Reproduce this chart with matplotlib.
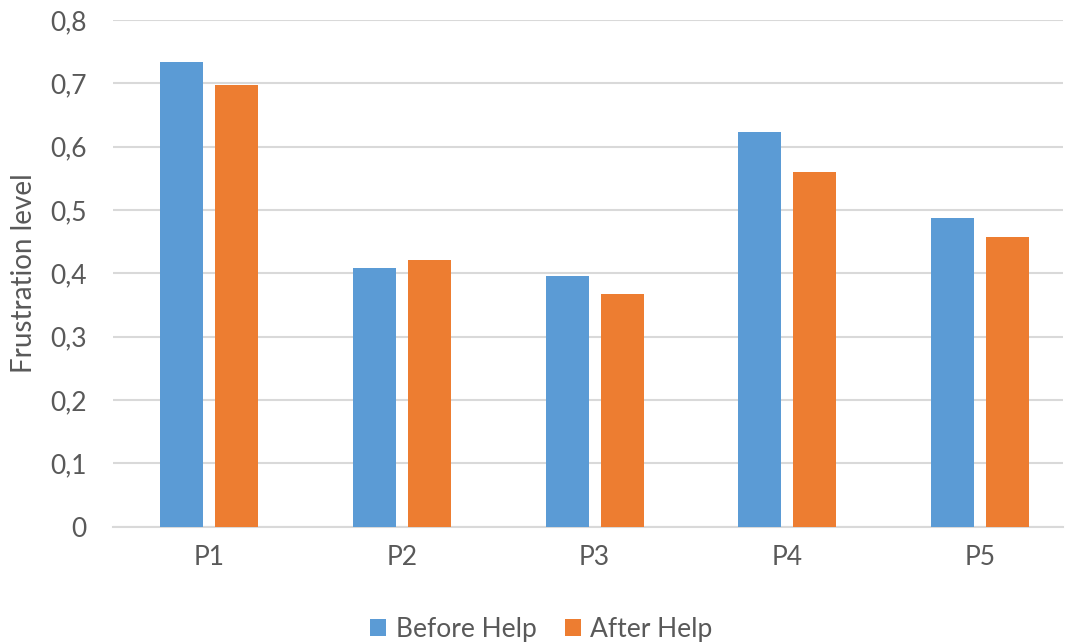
import matplotlib.pyplot as plt
import numpy as np

categories = ["P1", "P2", "P3", "P4", "P5"]
before_help = [0.733, 0.408, 0.395, 0.623, 0.488]
after_help = [0.697, 0.421, 0.368, 0.560, 0.458]
y_ticks = [0, 0.1, 0.2, 0.3, 0.4, 0.5, 0.6, 0.7, 0.8]

plt.rcParams["font.family"] = ["Lato", "DejaVu Sans"]
text_color = "#595959"

fig = plt.figure(figsize=(10.66, 6.43), dpi=100)
ax = fig.add_axes([0.106, 0.181, 0.891, 0.788])

x = np.arange(len(categories))
w = 0.223
off = 0.143
ax.bar(x - off, before_help, w, color="#5B9BD5", label="Before Help", zorder=3)
ax.bar(x + off, after_help, w, color="#ED7D31", label="After Help", zorder=3)

ax.set_xlim(-0.5, len(categories) - 0.57)
ax.set_ylim(0, 0.8)
ax.set_yticks(y_ticks)
ax.set_yticklabels([("%g" % t).replace(".", ",") for t in y_ticks])
ax.set_xticks(x)
ax.set_xticklabels(categories)

ax.grid(axis="y", color="#D9D9D9", linewidth=1.5, zorder=0)
for s in ["top", "right", "left"]:
    ax.spines[s].set_visible(False)
ax.spines["bottom"].set_color("#D9D9D9")
ax.spines["bottom"].set_linewidth(1.5)
ax.tick_params(axis="both", length=0, labelsize=19, labelcolor=text_color)
ax.tick_params(axis="y", pad=19)
ax.tick_params(axis="x", pad=13)

ax.set_ylabel("Frustration level", fontsize=20, color=text_color, labelpad=9)

fig.legend(loc="lower center", bbox_to_anchor=(0.508, -0.035), ncol=2, frameon=False,
           fontsize=19, labelcolor=text_color, handlelength=0.6, handleheight=0.6,
           handletextpad=0.35, columnspacing=1.1)

fig.savefig("out.png", dpi=100)
